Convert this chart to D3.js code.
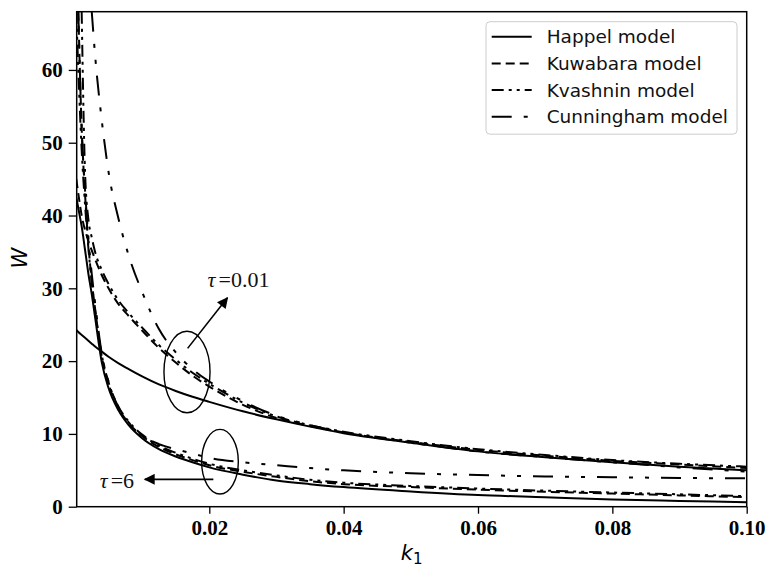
<!DOCTYPE html>
<html>
<head>
<meta charset="utf-8">
<script src="https://cdn.jsdelivr.net/npm/d3@7"></script>
<style>
  body { margin: 0; background: #fff; }
  svg { display: block; }
</style>
</head>
<body>
<svg id="chart" width="768" height="567"></svg>
<script>
// sample points on k1 axis
var k1 = [0.0002, 0.0005, 0.001, 0.0015, 0.002, 0.0025, 0.003, 0.004, 0.005, 0.0065, 0.008, 0.01,
          0.0125, 0.015, 0.0175, 0.02, 0.025, 0.03, 0.035, 0.04, 0.05, 0.06, 0.07, 0.08, 0.09, 0.1];

// tau = 0.01
var happelLow     = [24.3, 24.0, 23.6, 23.2, 22.8, 22.4, 22.0, 21.3, 20.6, 19.7, 18.9, 17.9,
                     16.8, 15.9, 15.1, 14.4, 13.1, 12.0, 11.0, 10.1, 8.8, 7.6, 6.8, 6.1, 5.5, 5.0];
var kuwabaraLow   = [45.0, 43.0, 40.0, 38.0, 36.5, 35.2, 34.0, 31.8, 30.0, 27.8, 26.2, 24.2,
                     21.8, 19.8, 18.0, 16.5, 14.0, 12.2, 11.1, 10.2, 8.9, 7.8, 7.0, 6.3, 5.8, 5.3];
var kvashninLow   = [null, null, 68.0, 46.0, 39.5, 37.0, 35.0, 32.5, 30.6, 28.3, 26.6, 24.6,
                     22.2, 20.2, 18.4, 16.9, 14.3, 12.4, 11.2, 10.3, 9.0, 7.9, 7.1, 6.4, 5.9, 5.5];
var cunninghamLow = [null, null, null, null, null, 68.0, 62.0, 53.0, 46.0, 39.5, 34.5, 29.5,
                     24.4, 21.2, 18.9, 17.2, 14.5, 12.5, 11.2, 10.2, 8.8, 7.6, 6.8, 6.1, 5.4, 4.8];

// tau = 6
var happelHigh     = [42.5, 41.0, 38.5, 35.3, 32.0, 29.2, 26.0, 19.8, 16.3, 13.2, 11.2, 9.4,
                      7.9, 6.9, 6.1, 5.4, 4.4, 3.6, 3.1, 2.7, 2.1, 1.6, 1.3, 1.0, 0.8, 0.6];
var kuwabaraHigh   = [null, 68.0, 52.0, 43.0, 36.0, 31.0, 27.2, 20.6, 16.9, 13.5, 11.5, 9.7,
                      8.2, 7.2, 6.4, 5.7, 4.8, 4.1, 3.5, 3.1, 2.7, 2.35, 2.05, 1.8, 1.55, 1.3];
var kvashninHigh   = [68.0, 60.0, 49.0, 41.5, 35.5, 30.8, 27.0, 20.8, 17.1, 13.7, 11.7, 9.9,
                      8.4, 7.4, 6.6, 5.9, 5.0, 4.3, 3.7, 3.3, 2.85, 2.5, 2.2, 1.95, 1.7, 1.45];
var cunninghamHigh = [null, 68.0, 52.0, 43.5, 37.0, 32.0, 28.0, 21.0, 17.2, 13.6, 11.6, 9.8,
                      8.6, 7.9, 7.3, 6.7, 6.1, 5.7, 5.3, 5.0, 4.6, 4.35, 4.15, 4.05, 3.95, 3.9];

var xTicks = [0.02, 0.04, 0.06, 0.08, 0.10];
var yTicks = [0, 10, 20, 30, 40, 50, 60];

var models = ["Happel model", "Kuwabara model", "Kvashnin model", "Cunningham model"];
var dashes = [null, "9,5", "12,5,3,5,3,5", "20,12,4,12,4,12"];

var series = [
  {model: 0, values: happelLow}, {model: 1, values: kuwabaraLow},
  {model: 2, values: kvashninLow}, {model: 3, values: cunninghamLow},
  {model: 0, values: happelHigh}, {model: 1, values: kuwabaraHigh},
  {model: 2, values: kvashninHigh}, {model: 3, values: cunninghamHigh}
];

var svg = d3.select("#chart"),
    margin = {top: 11.7, right: 21.3, bottom: 60.3, left: 76.7},
    width = +svg.attr("width") - margin.left - margin.right,
    height = +svg.attr("height") - margin.top - margin.bottom,
    g = svg.append("g").attr("transform", "translate(" + margin.left + "," + margin.top + ")");

var x = d3.scaleLinear().domain([0.00026, 0.1]).range([0, width]);
var y = d3.scaleLinear().domain([0, 68]).range([height, 0]);

svg.append("defs").append("clipPath").attr("id", "clip")
  .append("rect").attr("width", width).attr("height", height);

var defs = svg.select("defs");
defs.append("marker")
    .attr("id", "arrow")
    .attr("viewBox", "0 0 10 10")
    .attr("refX", 9).attr("refY", 5)
    .attr("markerUnits", "userSpaceOnUse")
    .attr("markerWidth", 13).attr("markerHeight", 11)
    .attr("orient", "auto")
  .append("path").attr("d", "M0,0L10,5L0,10z").attr("fill", "#000");

var line = d3.line()
    .defined(function(d) { return d[1] != null; })
    .x(function(d) { return x(d[0]); })
    .y(function(d) { return y(d[1]); })
    .curve(d3.curveMonotoneX);

var curves = g.append("g").attr("clip-path", "url(#clip)");
series.forEach(function(s) {
  curves.append("path")
    .datum(k1.map(function(k, i) { return [k, s.values[i]]; }))
    .attr("fill", "none")
    .attr("stroke", "#000")
    .attr("stroke-width", 2)
    .attr("stroke-dasharray", dashes[s.model])
    .attr("d", line);
});

// axes
var xAxis = g.append("g")
    .attr("transform", "translate(0," + height + ")")
    .call(d3.axisBottom(x).tickValues(xTicks).tickFormat(d3.format(".2f")).tickSize(7).tickPadding(6));
var yAxis = g.append("g")
    .call(d3.axisLeft(y).tickValues(yTicks).tickFormat(d3.format("d")).tickSize(8).tickPadding(6));

[xAxis, yAxis].forEach(function(a) {
  a.select(".domain").remove();
  a.selectAll("line").attr("stroke", "#000").attr("stroke-width", 1.3);
  a.selectAll("text")
    .attr("font-family", "'Liberation Serif', 'Times New Roman', serif")
    .attr("font-weight", "bold")
    .attr("font-size", 21)
    .attr("fill", "#000");
});

g.append("rect")
    .attr("width", width).attr("height", height)
    .attr("fill", "none").attr("stroke", "#000").attr("stroke-width", 1.5);

// axis labels
svg.append("text")
    .attr("transform", "translate(27,258) rotate(-90)")
    .attr("text-anchor", "middle")
    .attr("font-family", "'DejaVu Sans', sans-serif")
    .attr("font-style", "italic")
    .attr("font-size", 21)
    .text("W");

var xl = svg.append("text")
    .attr("x", margin.left + width / 2)
    .attr("y", 560)
    .attr("text-anchor", "middle")
    .attr("font-family", "'DejaVu Sans', sans-serif")
    .attr("font-size", 21);
xl.append("tspan").attr("font-style", "italic").text("k");
xl.append("tspan").attr("font-size", 15).attr("dy", 4).text("1");

// annotations
function ellipse(cx, cy, rx, ry) {
  g.append("ellipse")
    .attr("cx", x(cx)).attr("cy", y(cy))
    .attr("rx", x(cx + rx) - x(cx)).attr("ry", y(cy) - y(cy + ry))
    .attr("fill", "none").attr("stroke", "#000").attr("stroke-width", 1.4);
}
function arrow(x1, y1, x2, y2) {
  g.append("line")
    .attr("x1", x(x1)).attr("y1", y(y1)).attr("x2", x(x2)).attr("y2", y(y2))
    .attr("stroke", "#000").attr("stroke-width", 1.6)
    .attr("marker-end", "url(#arrow)");
}
function tauLabel(px, py, val) {
  var t = g.append("text")
    .attr("x", x(px)).attr("y", y(py))
    .attr("font-family", "'Liberation Serif', 'Times New Roman', serif")
    .attr("font-size", 22)
    .attr("fill", "#111");
  t.append("tspan").attr("font-style", "italic").text("\u03c4");
  t.append("tspan").attr("dx", 3).text("=" + val);
}

ellipse(0.01668, 18.5, 0.00343, 5.6);
arrow(0.01677, 21.75, 0.0227, 28.7);
tauLabel(0.01975, 30.2, "0.01");

ellipse(0.02159, 6.18, 0.00273, 4.44);
arrow(0.0206, 3.76, 0.0104, 3.76);
tauLabel(0.0037, 2.5, "6");

// legend
var legend = svg.append("g");
legend.append("rect")
    .attr("x", 486).attr("y", 21.7).attr("width", 251).attr("height", 112.5)
    .attr("rx", 4).attr("fill", "#fff").attr("fill-opacity", 0.8)
    .attr("stroke", "#ccc").attr("stroke-width", 1);

var item = legend.selectAll(".item")
    .data(models)
    .enter().append("g")
    .attr("class", "item")
    .attr("transform", function(d, i) { return "translate(0," + (36.7 + i * 26.7) + ")"; });

item.append("line")
    .attr("x1", 491.7).attr("x2", 531.7)
    .attr("stroke", "#000").attr("stroke-width", 2)
    .attr("stroke-dasharray", function(d, i) { return dashes[i]; });

item.append("text")
    .attr("x", 546.7).attr("dy", "0.35em")
    .attr("font-family", "'DejaVu Sans', sans-serif")
    .attr("font-size", 18.5)
    .attr("fill", "#111")
    .text(function(d) { return d; });
</script>
</body>
</html>
